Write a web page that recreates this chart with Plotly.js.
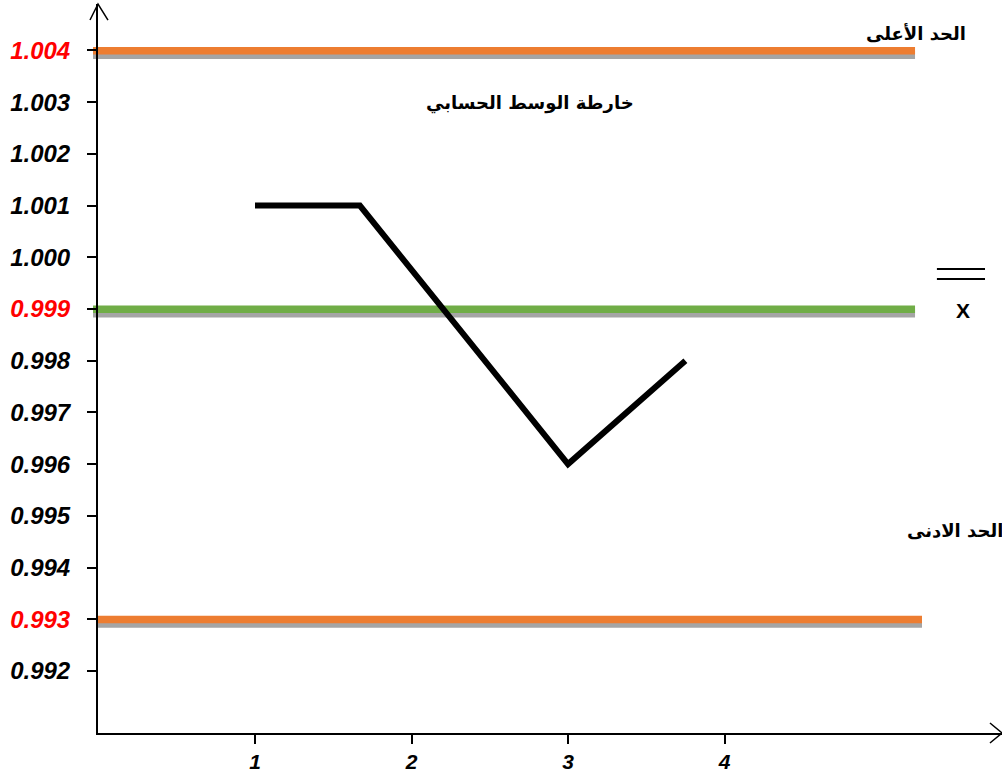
<!DOCTYPE html>
<html>
<head>
<meta charset="utf-8">
<script src="https://cdn.plot.ly/plotly-3.0.1.min.js"></script>
<style>html,body{margin:0;padding:0;background:#fff;}#chart{width:1002px;height:773px;}</style>
</head>
<body>
<div id="chart"></div>
<script>
// ---- data ----
const sampleNo = [1, 1.67, 3, 3.75];
const sampleMeans = [1.001, 1.001, 0.996, 0.998];
const upperLimit = 1.004;
const centerLine = 0.999;
const lowerLimit = 0.993;
const yTickVals = [0.992, 0.993, 0.994, 0.995, 0.996, 0.997, 0.998, 0.999, 1.000, 1.001, 1.002, 1.003, 1.004];
const yTickLabels = ['0.992', '0.993', '0.994', '0.995', '0.996', '0.997', '0.998', '0.999', '1.000', '1.001', '1.002', '1.003', '1.004'];
const redTicks = ['1.004', '0.999', '0.993'];
const xTickVals = [1, 2, 3, 4];
const xTickLabels = ['1', '2', '3', '4'];
const chartTitle = 'خارطة الوسط الحسابي';
const upperLabel = 'الحد الأعلى';
const lowerLabel = 'الحد الادنى';
const centerLabel = 'X';

const yTickText = yTickLabels.map(t => redTicks.includes(t) ? '<span style="color:#ff0000">' + t + '</span>' : t);

function limitShapes(value, x0, x1, color) {
  return [
    {type: 'rect', xref: 'paper', yref: 'y', ysizemode: 'pixel', yanchor: value,
     x0: x0, x1: x1, y0: -8.5, y1: 0, fillcolor: '#a5a5a5', line: {width: 0}, layer: 'below'},
    {type: 'rect', xref: 'paper', yref: 'y', ysizemode: 'pixel', yanchor: value,
     x0: x0, x1: x1, y0: -4, y1: 3.5, fillcolor: color, line: {width: 0}, layer: 'below'}
  ];
}

const shapes = [].concat(
  limitShapes(upperLimit, -0.0055, 0.9038, '#ed7d31'),
  limitShapes(centerLine, -0.0055, 0.9038, '#70ad47'),
  limitShapes(lowerLimit, 0, 0.9115, '#ed7d31'),
  [
    // axis arrows
    {type: 'path', xref: 'paper', yref: 'paper', path: 'M -0.00885 0.978 L 0 1 L 0.01106 0.978', line: {color: '#000', width: 1.5}},
    {type: 'path', xref: 'paper', yref: 'paper', path: 'M 0.9867 0.01372 L 1 0 L 0.9867 -0.01372', line: {color: '#000', width: 1.5}},
    // double bar over X
    {type: 'line', xref: 'paper', yref: 'paper', x0: 0.928, x1: 0.9812, y0: 0.6365, y1: 0.6365, line: {color: '#000', width: 2}},
    {type: 'line', xref: 'paper', yref: 'paper', x0: 0.928, x1: 0.9812, y0: 0.6228, y1: 0.6228, line: {color: '#000', width: 2}}
  ]
);

const arFont = {family: 'DejaVu Sans', size: 18, color: '#000', weight: 'bold'};

const data = [{
  x: sampleNo, y: sampleMeans, type: 'scatter', mode: 'lines',
  line: {color: '#000', width: 6}, hoverinfo: 'skip', showlegend: false
}];

const layout = {
  width: 1002, height: 773,
  margin: {l: 98, r: 0, t: 4, b: 40, pad: 0},
  paper_bgcolor: '#fff', plot_bgcolor: '#fff',
  showlegend: false,
  xaxis: {
    range: [-0.0032, 5.773], showgrid: false, zeroline: false,
    showline: true, linecolor: '#000', linewidth: 2,
    tickmode: 'array', tickvals: xTickVals, ticktext: xTickLabels,
    ticks: 'outside', ticklen: 9, tickwidth: 2, tickcolor: '#000',
    tickfont: {family: 'Liberation Sans', size: 21, color: '#000', weight: 'bold', style: 'italic'}
  },
  yaxis: {
    range: [0.990799, 1.004899], showgrid: false, zeroline: false,
    showline: true, linecolor: '#000', linewidth: 2,
    tickmode: 'array', tickvals: yTickVals, ticktext: yTickText,
    ticks: 'outside', ticklen: 9, tickwidth: 2, tickcolor: '#000',
    ticklabelstandoff: 12,
    tickfont: {family: 'Liberation Sans', size: 24, color: '#000', weight: 'bold', style: 'italic'}
  },
  shapes: shapes,
  annotations: [
    {text: chartTitle, xref: 'paper', yref: 'paper', x: 0.478, y: 0.882, showarrow: false, font: arFont},
    {text: upperLabel, xref: 'paper', yref: 'paper', x: 0.962, y: 0.977, xanchor: 'right', showarrow: false, font: arFont},
    {text: lowerLabel, xref: 'paper', yref: 'paper', x: 1.003, y: 0.261, xanchor: 'right', showarrow: false, font: arFont},
    {text: centerLabel, xref: 'paper', yref: 'paper', x: 0.9669, y: 0.5789, showarrow: false,
     font: {family: 'Liberation Sans', size: 21, color: '#000', weight: 'bold'}}
  ]
};

Plotly.newPlot('chart', data, layout, {displayModeBar: false, staticPlot: true});
</script>
</body>
</html>
